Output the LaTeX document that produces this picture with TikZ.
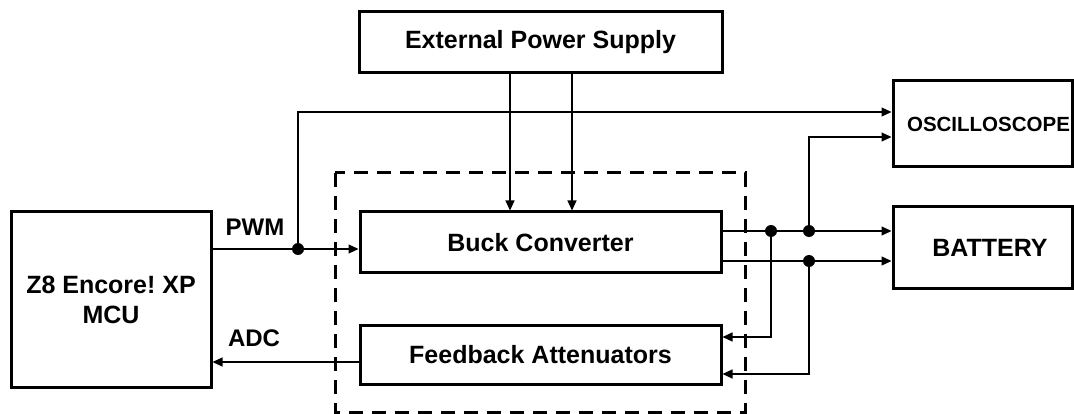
\documentclass[tikz,border=0pt]{standalone}
\usepackage{fontspec}
\setmainfont{Liberation Sans}
\usetikzlibrary{arrows.meta}
\frenchspacing
\begin{document}
\begin{tikzpicture}[x=1pt,y=-1pt,
  box/.style={draw,line width=3pt,inner sep=0pt,align=center,font=\fontsize{25}{30}\selectfont\bfseries},
  lbl/.style={inner sep=0pt,font=\fontsize{24}{28}\selectfont\bfseries},
  conn/.style={line width=1.2pt},
  arr/.style={conn,-{Triangle[length=10pt,width=9pt]}},
  jdot/.style={circle,fill,inner sep=0pt,minimum size=12pt},
  grp/.style={line width=3pt,dash pattern=on 14pt off 9pt}]
\useasboundingbox (0,0) rectangle (1074,414);
% boxes
\node[box,minimum width=363pt,minimum height=61pt] (eps) at (540.5,42.5) {External Power Supply};
\node[box,minimum width=200pt,minimum height=175pt] (mcu) at (111,299.5) {\frenchspacing Z8 Encore! XP\\MCU};
\node[box,minimum width=361pt,minimum height=61pt] (buck) at (540.5,242.5) {Buck Converter};
\node[box,minimum width=361pt,minimum height=59pt] (fb) at (540.5,354.5) {Feedback Attenuators};
\node[box,minimum width=179pt,minimum height=86pt,font=\fontsize{20.5}{24}\selectfont\bfseries] (osc) at (982.5,124) {\hspace*{12pt}OSCILLOSCOPE};
\node[box,minimum width=179pt,minimum height=81pt] (bat) at (982.5,247.5) {\hspace*{15pt}BATTERY};
% dashed group
\draw[grp] (335,173) rectangle (745,412);
% labels
\node[lbl] (pwm) at (255,227) {PWM};
\node[lbl] (adc) at (254,338) {ADC};
% junctions
\node[jdot] (j0) at (298,249) {};
\node[jdot] (j1) at (771,231) {};
\node[jdot] (j2) at (809,231) {};
\node[jdot] (j3) at (809,261) {};
% coordinates
\coordinate (m1) at (mcu.east |- j0);
\coordinate (b1) at (buck.west |- j0);
\coordinate (t1) at (298,112);
\coordinate (o1) at (osc.west |- t1);
\coordinate (t2) at (809,137);
\coordinate (o2) at (osc.west |- t2);
\coordinate (f0) at (fb.west |- 0,362);
\coordinate (m0) at (mcu.east |- 0,362);
\coordinate (e1) at (eps.south -| 510,0);
\coordinate (e2) at (eps.south -| 572,0);
\coordinate (bu1) at (buck.north -| 510,0);
\coordinate (bu2) at (buck.north -| 572,0);
\coordinate (bo1) at (buck.east |- j1);
\coordinate (bo2) at (buck.east |- j3);
\coordinate (ba1) at (bat.west |- j2);
\coordinate (ba2) at (bat.west |- j3);
\coordinate (c1) at (771,337);
\coordinate (c2) at (809,374);
\coordinate (fi1) at (fb.east |- c1);
\coordinate (fi2) at (fb.east |- c2);
% connectors
\draw[conn] (m1) -- (j0);
\draw[arr] (j0) -- (b1);
\draw[arr] (j0) -- (t1) -- (o1);
\draw[arr] (f0) -- (m0);
\draw[arr] (e1) -- (bu1);
\draw[arr] (e2) -- (bu2);
\draw[conn] (bo1) -- (j1);
\draw[conn] (j1) -- (j2);
\draw[arr] (j2) -- (ba1);
\draw[conn] (bo2) -- (j3);
\draw[arr] (j3) -- (ba2);
\draw[arr] (j2) -- (t2) -- (o2);
\draw[arr] (j1) -- (c1) -- (fi1);
\draw[arr] (j3) -- (c2) -- (fi2);
\end{tikzpicture}
\end{document}
